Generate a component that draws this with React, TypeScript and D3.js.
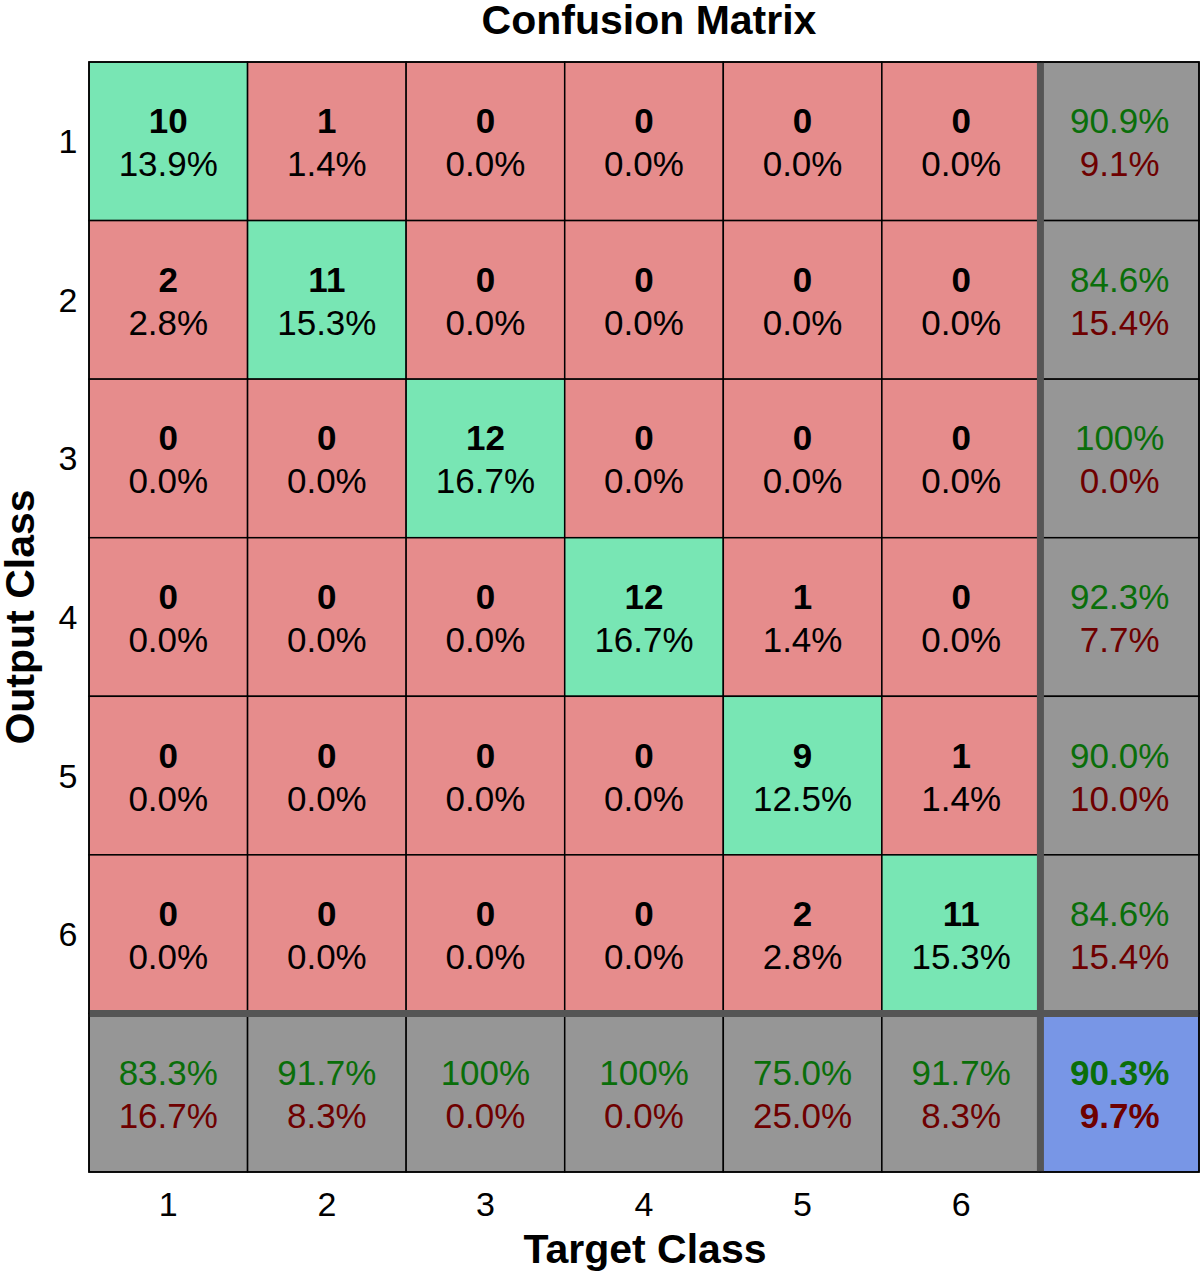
import React from "react";
import * as d3 from "d3";

const classes = ["1", "2", "3", "4", "5", "6"];
// rows = output class, columns = target class
const counts: number[][] = [
  [10, 1, 0, 0, 0, 0],
  [2, 11, 0, 0, 0, 0],
  [0, 0, 12, 0, 0, 0],
  [0, 0, 0, 12, 1, 0],
  [0, 0, 0, 0, 9, 1],
  [0, 0, 0, 0, 2, 11],
];
const title = "Confusion Matrix";
const xLabel = "Target Class";
const yLabel = "Output Class";

const GREEN = "#78e6b4";
const RED = "#e68c8c";
const GRAY = "#969696";
const BLUE = "#7896e6";
const TXT_G = "#0a6e0a";
const TXT_R = "#6e0000";
const FONT = "'Liberation Sans', Arial, Helvetica, sans-serif";

function fmt(p: number): string {
  if (Math.abs(p - 100) < 1e-9) return "100%";
  return p.toFixed(1) + "%";
}

export default function App() {
  const W = 1200, H = 1273;
  const left = 89, top = 62, right = 1199, bottom = 1172;
  const n = classes.length;
  const idx = d3.range(n + 1).map(String);
  const x = d3.scaleBand().domain(idx).range([left, right]);
  const y = d3.scaleBand().domain(idx).range([top, bottom]);
  const bw = x.bandwidth(), bh = y.bandwidth();
  const total = d3.sum(counts.flat());
  const rowSums = counts.map((r) => d3.sum(r));
  const colSums = d3.range(n).map((j) => d3.sum(counts, (r) => r[j]));
  const correct = d3.sum(d3.range(n), (i) => counts[i][i]);

  const cells: React.ReactNode[] = [];
  const fs = 35;
  const l1 = -8, l2 = 35;

  for (let i = 0; i < n; i++) {
    for (let j = 0; j < n; j++) {
      const cx = x(String(j))!, cy = y(String(i))!;
      const c = counts[i][j];
      cells.push(
        <g key={`c${i}-${j}`}>
          <rect x={cx} y={cy} width={bw} height={bh} fill={i === j ? GREEN : RED} stroke="#000" strokeWidth={1.5} />
          <text x={cx + bw / 2} y={cy + bh / 2 + l1} textAnchor="middle" fontWeight="bold" fontSize={fs} fontFamily={FONT}>{c}</text>
          <text x={cx + bw / 2} y={cy + bh / 2 + l2} textAnchor="middle" fontSize={fs} fontFamily={FONT}>{fmt((c / total) * 100)}</text>
        </g>
      );
    }
  }
  // row summary
  for (let i = 0; i < n; i++) {
    const cx = x(String(n))!, cy = y(String(i))!;
    const acc = rowSums[i] ? (counts[i][i] / rowSums[i]) * 100 : 0;
    cells.push(
      <g key={`r${i}`}>
        <rect x={cx} y={cy} width={bw} height={bh} fill={GRAY} stroke="#000" strokeWidth={1.5} />
        <text x={cx + bw / 2} y={cy + bh / 2 + l1} textAnchor="middle" fontSize={fs} fontFamily={FONT} fill={TXT_G}>{fmt(acc)}</text>
        <text x={cx + bw / 2} y={cy + bh / 2 + l2} textAnchor="middle" fontSize={fs} fontFamily={FONT} fill={TXT_R}>{fmt(100 - acc)}</text>
      </g>
    );
  }
  // column summary
  for (let j = 0; j < n; j++) {
    const cx = x(String(j))!, cy = y(String(n))!;
    const acc = colSums[j] ? (counts[j][j] / colSums[j]) * 100 : 0;
    cells.push(
      <g key={`s${j}`}>
        <rect x={cx} y={cy} width={bw} height={bh} fill={GRAY} stroke="#000" strokeWidth={1.5} />
        <text x={cx + bw / 2} y={cy + bh / 2 + l1} textAnchor="middle" fontSize={fs} fontFamily={FONT} fill={TXT_G}>{fmt(acc)}</text>
        <text x={cx + bw / 2} y={cy + bh / 2 + l2} textAnchor="middle" fontSize={fs} fontFamily={FONT} fill={TXT_R}>{fmt(100 - acc)}</text>
      </g>
    );
  }
  const oacc = (correct / total) * 100;
  {
    const cx = x(String(n))!, cy = y(String(n))!;
    cells.push(
      <g key="overall">
        <rect x={cx} y={cy} width={bw} height={bh} fill={BLUE} stroke="#000" strokeWidth={1.5} />
        <text x={cx + bw / 2} y={cy + bh / 2 + l1} textAnchor="middle" fontWeight="bold" fontSize={fs} fontFamily={FONT} fill={TXT_G}>{fmt(oacc)}</text>
        <text x={cx + bw / 2} y={cy + bh / 2 + l2} textAnchor="middle" fontWeight="bold" fontSize={fs} fontFamily={FONT} fill={TXT_R}>{fmt(100 - oacc)}</text>
      </g>
    );
  }

  const sepX = x(String(n))!;
  const sepY = y(String(n))!;

  return (
    <svg width={W} height={H} style={{ position: "absolute", left: 0, top: 0, background: "#fff" }}>
      <rect x={0} y={0} width={W} height={H} fill="#fff" />
      {cells}
      <line x1={sepX} x2={sepX} y1={top} y2={bottom} stroke="#555" strokeWidth={7} />
      <line x1={left} x2={right} y1={sepY} y2={sepY} stroke="#555" strokeWidth={7} />
      <rect x={left} y={top} width={right - left} height={bottom - top} fill="none" stroke="#000" strokeWidth={1.5} />
      {classes.map((c, j) => (
        <text key={`xt${j}`} x={x(String(j))! + bw / 2} y={1216} textAnchor="middle" fontSize={34} fontFamily={FONT}>{c}</text>
      ))}
      {classes.map((c, i) => (
        <text key={`yt${i}`} x={68} y={y(String(i))! + bh / 2 + 12} textAnchor="middle" fontSize={34} fontFamily={FONT}>{c}</text>
      ))}
      <text x={649} y={34} textAnchor="middle" fontWeight="bold" fontSize={41} fontFamily={FONT}>{title}</text>
      <text x={645} y={1263} textAnchor="middle" fontWeight="bold" fontSize={41} fontFamily={FONT}>{xLabel}</text>
      <text transform={`translate(34,${(top + bottom) / 2}) rotate(-90)`} textAnchor="middle" fontWeight="bold" fontSize={41} fontFamily={FONT}>{yLabel}</text>
    </svg>
  );
}
